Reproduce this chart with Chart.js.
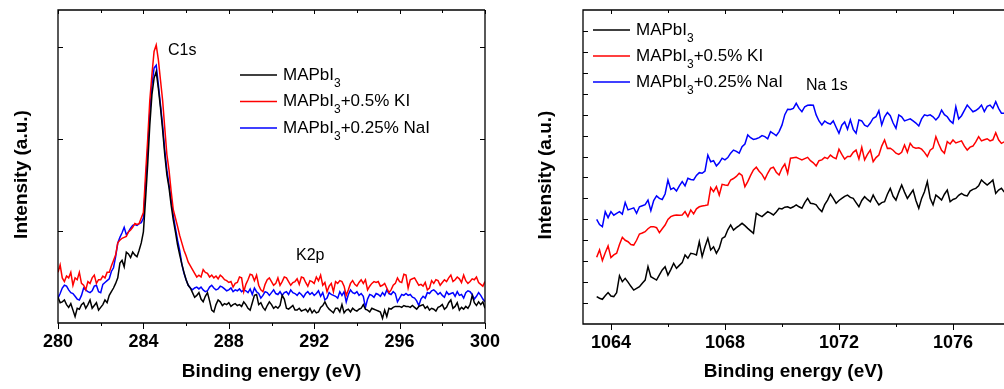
<!DOCTYPE html>
<html>
<head>
<meta charset="utf-8">
<script src="https://cdn.jsdelivr.net/npm/chart.js@4.4.1/dist/chart.umd.min.js"></script>
<style>
    html, body { margin: 0; padding: 0; background: #fff; overflow: hidden; }
    #leftChart { position: absolute; left: 0; top: 0; }
    #rightChart { position: absolute; left: 500px; top: 0; }
</style>
</head>
<body>
<canvas id="leftChart" width="500" height="389"></canvas>
<canvas id="rightChart" width="504" height="389"></canvas>
<script>
// XPS spectra - C1s / K2p region (left) and Na 1s region (right)
const STEP = 0.1;
const seriesNames = ['MAPbI3', 'MAPbI3+0.5% KI', 'MAPbI3+0.25% NaI'];
const seriesColors = ['#000000', '#ff0000', '#0000ff'];

// Left panel: 280.0 ... 300.0 eV
const leftStart = 280;
const leftMajorTicks = [280, 284, 288, 292, 296, 300];
const leftMinorTicks = [282, 286, 290, 294, 298];
const leftYTicks = [10, 20, 30];

const leftBlack = [
    2.8, 2.2, 2.3, 2.5, 2.0, 1.7, 2.1, 1.4, 0.7, 1.6,
    1.5, 2.0, 2.2, 1.6, 2.0, 2.5, 1.6, 1.9, 2.2, 1.4,
    1.7, 2.0, 2.5, 2.2, 3.0, 3.4, 3.8, 4.3, 4.9, 6.5,
    6.8, 6.1, 7.7, 7.5, 7.1, 7.7, 7.4, 7.2, 7.9, 8.7,
    9.9, 13.4, 17.2, 21.5, 24.8, 26.6, 27.3, 25.5, 23.4, 21.0,
    18.3, 16.1, 14.7, 12.8, 11.2, 9.9, 8.5, 7.4, 6.4, 5.5,
    4.7, 4.1, 3.8,
    3.3, 2.8, 3.0, 3.3, 2.6, 2.3, 2.9, 3.3, 2.4, 1.4,
    1.2, 2.0, 2.5, 2.3, 1.9, 2.1, 2.0, 2.2, 1.8, 2.0,
    2.1, 1.9, 2.0, 1.8, 2.3, 2.0, 1.6, 1.4, 2.2, 3.0,
    3.1, 2.0, 2.2, 1.7, 1.4, 1.9, 2.3, 2.0, 1.6, 1.8,
    1.6, 1.9, 3.0, 2.6, 1.6, 1.5, 1.7, 1.9, 1.4, 1.4,
    1.6, 1.3, 1.4, 1.5, 1.2, 1.6, 1.1, 1.4, 1.1, 1.2,
    1.7, 1.9, 2.3, 1.8, 1.5, 1.3, 1.1, 1.6, 1.6, 1.2,
    2.0, 1.1, 1.4, 1.5, 1.2, 1.6, 1.4, 1.3, 1.5, 1.6,
    2.0, 1.5, 1.4, 1.2, 1.6, 1.5, 1.4, 1.3, 1.2, 0.5,
    1.4, 0.7, 1.6, 1.5, 1.7, 1.8, 1.8, 1.8, 1.7, 1.9,
    1.8, 1.8, 1.7, 1.9, 1.7, 1.5, 1.8, 1.9, 2.0, 1.6,
    1.8, 1.4, 1.6, 1.5, 1.3, 1.7, 1.8, 2.0, 1.5, 1.7,
    2.2, 2.5, 1.6, 1.8, 2.2, 1.4, 1.7, 1.5, 1.8, 1.6,
    2.0, 3.0, 2.2, 1.9, 2.3, 2.0, 2.3, 1.6
];

const leftRed = [
    5.5, 6.3, 4.9, 4.5, 5.1, 4.9, 5.5, 4.1, 4.9, 4.7,
    5.5, 4.3, 4.1, 3.6, 4.5, 4.3, 4.9, 5.2, 4.3, 4.7,
    4.7, 5.1, 4.9, 5.5, 5.5, 6.2, 6.8, 7.4, 8.7, 9.0,
    9.2, 9.3, 9.4, 9.9, 10.1, 10.4, 10.8, 10.7, 10.8, 11.4,
    12.0, 16.1, 19.9, 24.2, 27.0, 29.5, 30.2, 28.6, 26.4, 24.2,
    21.2, 18.3, 16.6, 14.3, 12.3, 11.4, 10.5, 9.5, 8.7, 7.9,
    7.3, 6.6, 6.2,
    5.8, 5.4, 5.0, 5.2, 5.0, 5.8, 5.5, 5.4, 5.0, 5.2,
    4.9, 5.1, 4.8, 5.2, 5.0, 4.7, 4.6, 4.4, 4.5, 3.9,
    4.3, 4.4, 5.0, 4.9, 3.4, 4.2, 4.7, 5.3, 5.2, 4.6,
    5.2, 4.1, 3.6, 3.4, 4.2, 4.7, 4.9, 4.5, 4.1, 4.3,
    4.9, 4.1, 4.5, 5.0, 4.9, 4.5, 4.1, 4.4, 4.5, 4.8,
    4.2, 5.0, 4.9, 4.4, 4.0, 4.6, 4.5, 4.3, 5.0, 4.6,
    5.2, 4.1, 4.4, 3.4, 4.0, 4.3, 3.4, 4.5, 4.3, 4.6,
    4.5, 4.0, 3.0, 3.6, 4.3, 4.6, 4.2, 4.0, 4.4, 4.7,
    4.3, 4.7, 3.6, 4.0, 4.3, 4.5, 4.4, 4.5, 4.0, 4.1,
    4.3, 3.8, 3.3, 3.6, 4.1, 4.3, 4.9, 4.5, 4.4, 5.3,
    5.2, 3.8, 4.7, 4.8, 4.9, 4.5, 4.1, 4.2, 4.0, 4.4,
    3.6, 3.8, 4.6, 4.3, 4.7, 4.6, 4.1, 4.4, 4.7, 4.5,
    4.9, 5.2, 4.5, 4.7, 5.0, 4.8, 4.4, 5.2, 4.6, 4.3,
    4.5, 4.8, 4.7, 5.0, 4.4, 4.2, 4.0, 4.5
];

const leftBlue = [
    2.7, 3.2, 3.8, 4.1, 4.0, 3.6, 3.3, 3.2, 2.9, 2.6,
    2.5, 3.0, 3.8, 3.6, 3.4, 3.3, 3.5, 4.0, 4.1, 3.4,
    3.3, 4.2, 4.4, 4.6, 4.8, 5.6, 6.0, 7.2, 8.7, 9.3,
    9.8, 10.4, 9.6, 9.9, 10.3, 10.6, 10.7, 10.6, 10.8, 10.9,
    11.4, 15.0, 18.8, 22.9, 25.9, 27.7, 28.0, 25.9, 23.7, 21.5,
    18.8, 16.6, 15.0, 13.4, 11.7, 10.3, 9.0, 7.9, 6.4, 5.4,
    4.7, 4.1, 3.8,
    3.6, 3.8, 3.9, 3.7, 3.9, 3.6, 3.4, 3.5, 3.9, 4.1,
    3.8, 3.6, 3.7, 4.0, 3.9, 3.7, 3.5, 3.6, 3.8, 3.4,
    3.6, 3.5, 3.7, 3.4, 3.6, 3.5, 3.3, 3.7, 3.1, 3.8,
    3.4, 3.2, 2.7, 3.0, 3.4, 3.3, 3.0, 3.3, 3.6, 3.2,
    3.1, 3.4, 3.0, 3.3, 3.4, 3.1, 3.6, 3.3, 3.2, 3.0,
    3.3, 3.1, 2.8, 3.2, 3.4, 3.1, 3.3, 3.0, 3.2, 3.5,
    2.9, 3.3, 2.5, 2.7, 3.3, 3.1, 3.0, 2.9, 2.7, 3.4,
    3.0, 3.4, 2.3, 3.1, 3.6, 3.3, 3.2, 3.4, 3.0, 3.2,
    2.9, 1.7, 2.6, 3.1, 3.0, 2.8, 3.2, 3.1, 2.9, 3.3,
    3.0, 3.6, 3.2, 3.1, 3.4, 3.2, 2.3, 2.7, 3.1, 3.0,
    3.2, 3.0, 3.1, 2.8, 2.7, 2.4, 1.9, 2.6, 2.9, 2.7,
    3.3, 3.2, 3.5, 3.6, 3.4, 3.1, 3.3, 3.0, 2.8, 3.4,
    3.1, 3.2, 3.3, 2.9, 3.4, 3.0, 3.1, 2.7, 3.3, 3.5,
    3.4, 3.1, 2.6, 2.9, 3.3, 3.0, 2.6, 2.3
];

// Right panel: 1063.5 ... 1077.8 eV
const rightStart = 1063.5;
const rightMajorTicks = [1064, 1068, 1072, 1076];
const rightMinorTicks = [1066, 1070, 1074];
const rightYTicks = [1, 2, 3, 4, 5, 6, 7, 8, 9, 10, 11, 12, 13, 14];

const rightBlack = [
    1.31, 1.23, 1.18, 1.35, 1.5,
    1.34, 1.31, 1.5, 2.31, 2.02,
    2.18, 2.0, 1.8, 1.62, 1.7,
    1.78, 1.95, 2.1, 2.74, 2.26,
    2.18, 2.1, 2.35, 2.58, 2.74,
    2.34, 2.6, 2.9, 2.66, 2.8,
    2.93, 3.3, 3.14, 3.38, 3.35,
    3.3, 3.93, 3.22, 3.69, 4.09,
    3.54, 3.69, 3.38, 3.62, 4.09,
    4.17, 4.5, 4.73, 4.49, 4.6,
    4.7, 4.81, 4.7, 4.57, 4.45,
    4.33, 5.29, 5.2, 5.13, 5.25,
    5.37, 5.3, 5.21, 5.35, 5.53,
    5.5, 5.58, 5.6, 5.53, 5.6,
    5.69, 5.6, 5.53, 5.8, 6.0,
    5.77, 5.75, 5.69, 5.5, 5.37,
    5.7, 5.92, 6.21, 6.0, 5.77,
    5.9, 6.0, 6.1, 6.16, 6.05,
    6.0, 5.8, 5.6, 5.9, 6.08,
    5.95, 5.84, 6.16, 5.9, 5.69,
    5.8, 5.84, 6.2, 6.48, 6.1,
    5.92, 6.3, 6.64, 6.3, 6.0,
    6.2, 6.4, 5.9, 5.53, 6.0,
    6.32, 6.8, 6.0, 5.69, 6.16,
    6.05, 5.92, 6.2, 6.4, 5.84,
    5.95, 6.0, 6.15, 6.24, 6.15,
    6.12, 6.35, 6.43, 6.48, 6.6,
    6.88, 6.75, 6.64, 6.75, 6.88,
    6.24, 6.4, 6.48, 6.3
];

const rightRed = [
    3.19, 3.54, 3.03, 3.4, 3.73,
    3.17, 3.3, 3.38, 3.8, 4.14,
    4.0, 3.93, 3.8, 3.77, 4.0,
    4.3, 4.35, 4.41, 4.55, 4.65,
    4.65, 4.6, 4.36, 4.55, 4.73,
    5.0, 5.13, 5.18, 5.21, 5.2,
    5.21, 5.37, 5.13, 5.45, 5.26,
    5.5, 5.6, 5.64, 5.66, 5.69,
    6.51, 6.32, 6.56, 6.16, 6.67,
    6.64, 6.62, 6.88, 6.95, 7.05,
    7.2, 7.1, 6.56, 6.8, 7.1,
    7.36, 7.49, 7.3, 7.15, 6.91,
    7.2, 7.44, 7.49, 7.25, 7.12,
    7.44, 7.64, 7.2, 7.92, 7.94,
    7.96, 7.9, 7.84, 7.9, 7.96,
    7.8, 7.7, 7.55, 7.8, 7.84,
    7.96, 7.9, 8.07, 7.96, 7.9,
    8.35, 8.1, 7.88, 8.0, 8.0,
    8.2, 8.31, 7.88, 8.44, 7.84,
    8.1, 8.31, 7.75, 7.95, 8.07,
    8.5, 8.79, 8.39, 8.4, 8.3,
    8.16, 8.1, 8.2, 8.55, 8.2,
    8.63, 8.45, 8.4, 8.42, 8.35,
    8.2, 8.0, 8.3, 8.4, 8.95,
    8.6, 8.3, 8.16, 8.71, 8.6,
    8.79, 8.65, 8.7, 8.75, 8.5,
    8.31, 8.45, 8.5, 8.7, 8.95,
    8.75, 8.8, 8.85, 8.75, 8.8,
    9.14, 8.8, 8.63, 8.7
];

const rightBlue = [
    5.0, 4.75, 4.65, 5.37, 5.08,
    5.37, 5.2, 5.29, 5.37, 5.25,
    5.8, 5.45, 5.5, 5.55, 5.29,
    5.6, 5.65, 5.7, 5.92, 5.41,
    5.9, 6.12, 6.0, 5.95, 6.21,
    6.88, 6.43, 6.5, 6.35, 6.6,
    6.8, 6.6, 6.96, 6.9, 6.88,
    7.1, 7.23, 7.2, 7.31, 8.07,
    7.75, 7.8, 7.55, 7.7, 7.92,
    7.84, 7.95, 8.16, 8.31, 8.25,
    8.16, 8.47, 8.6, 9.03, 8.9,
    8.82, 8.85, 8.9, 9.0, 8.95,
    8.85, 9.19, 9.1, 9.0, 9.19,
    9.5, 10.0, 10.26, 10.25, 10.3,
    10.54, 10.3, 10.14, 10.38, 10.45,
    10.46, 10.45, 9.99, 9.7, 9.51,
    9.7, 9.6, 9.55, 9.7, 9.4,
    9.11, 9.5, 9.65, 9.3, 9.75,
    9.3, 9.11, 9.75, 9.7, 9.5,
    9.43, 9.6, 9.83, 9.9, 10.19,
    9.51, 9.9, 10.1, 9.95, 9.6,
    9.35, 9.99, 9.9, 9.7, 9.75,
    9.8, 9.7, 9.6, 9.46, 9.8,
    9.99, 9.95, 9.99, 9.9, 9.75,
    9.9, 10.22, 10.0, 9.9, 9.7,
    9.59, 10.38, 9.8, 9.95, 10.2,
    10.46, 10.3, 10.14, 10.2, 10.3,
    10.46, 10.15, 10.4, 10.46, 10.3,
    10.62, 10.3, 10.07, 10.07
];

const FAMILY = '"Liberation Sans", Arial, Helvetica, sans-serif';
Chart.defaults.font.family = FAMILY;
Chart.defaults.color = '#000';

// Pair the energy grid with a list of intensities
function toPoints(start, values) {
    return values.map((v, i) => ({ x: +(start + i * STEP).toFixed(2), y: v }));
}

// "MAPbI3..." -> MAPbI + subscript 3 + rest
function drawFormula(ctx, label, x, y) {
    const cut = label.indexOf('3');
    const head = label.slice(0, cut);
    const tail = label.slice(cut + 1);
    ctx.fillStyle = '#000';
    ctx.textAlign = 'left';
    ctx.textBaseline = 'middle';
    ctx.font = '17px ' + FAMILY;
    ctx.fillText(head, x, y);
    let w = ctx.measureText(head).width;
    ctx.font = '12px ' + FAMILY;
    ctx.fillText('3', x + w, y + 8.5);
    w += ctx.measureText('3').width;
    ctx.font = '17px ' + FAMILY;
    ctx.fillText(tail, x + w, y);
}

// Frame, ticks, y title, legend and peak notes
const framePlugin = {
    id: 'framePlugin',
    afterDatasetsDraw(chart, args, o) {
        const { ctx, chartArea: a } = chart;
        const xs = chart.scales.x;
        const ys = chart.scales.y;
        ctx.save();
        ctx.strokeStyle = '#000';
        ctx.lineWidth = 1.3;
        ctx.beginPath();
        ctx.moveTo(a.right, a.top);
        ctx.lineTo(a.left, a.top);
        ctx.lineTo(a.left, a.bottom);
        ctx.lineTo(a.right, a.bottom);
        if (o.closed) ctx.lineTo(a.right, a.top);
        ctx.stroke();

        ctx.lineWidth = 1;
        ctx.beginPath();
        o.xMajor.forEach(v => {
            const px = Math.round(xs.getPixelForValue(v)) + 0.5;
            ctx.moveTo(px, a.bottom); ctx.lineTo(px, a.bottom + 6);
            ctx.moveTo(px, a.top); ctx.lineTo(px, a.top + 4);
        });
        o.xMinor.forEach(v => {
            const px = Math.round(xs.getPixelForValue(v)) + 0.5;
            ctx.moveTo(px, a.bottom); ctx.lineTo(px, a.bottom + 3);
            ctx.moveTo(px, a.top); ctx.lineTo(px, a.top + 3);
        });
        o.yTicks.forEach(v => {
            const py = Math.round(ys.getPixelForValue(v)) + 0.5;
            ctx.moveTo(a.left, py); ctx.lineTo(a.left + 5, py);
            if (o.closed) { ctx.moveTo(a.right, py); ctx.lineTo(a.right - 5, py); }
        });
        ctx.stroke();

        // rotated y title, a little below the middle of the frame
        ctx.save();
        ctx.translate(o.yTitle.x, (a.top + a.bottom) / 2 + 8);
        ctx.rotate(-Math.PI / 2);
        ctx.fillStyle = '#000';
        ctx.font = 'bold 19px ' + FAMILY;
        ctx.textAlign = 'center';
        ctx.textBaseline = 'middle';
        ctx.fillText(o.yTitle.text, 0, 0);
        ctx.restore();

        // legend
        chart.data.datasets.forEach((ds, i) => {
            const ly = o.legend.y + i * o.legend.gap;
            ctx.strokeStyle = ds.borderColor;
            ctx.lineWidth = 1.5;
            ctx.beginPath();
            ctx.moveTo(o.legend.x, ly);
            ctx.lineTo(o.legend.x + 37, ly);
            ctx.stroke();
            drawFormula(ctx, ds.label, o.legend.x + 43, ly);
        });

        // peak notes, anchored in data units
        ctx.fillStyle = '#000';
        ctx.font = '16px ' + FAMILY;
        ctx.textAlign = 'left';
        ctx.textBaseline = 'middle';
        o.notes.forEach(n => {
            ctx.fillText(n.text, xs.getPixelForValue(n.x), ys.getPixelForValue(n.y));
        });
        ctx.restore();
    }
};

function makeChart(id, cfg) {
    const datasets = cfg.series.map((values, i) => ({
        label: seriesNames[i],
        data: toPoints(cfg.start, values),
        borderColor: seriesColors[i],
        borderWidth: 1.5,
        pointRadius: 0,
        tension: 0,
        fill: false
    }));
    return new Chart(document.getElementById(id), {
        type: 'line',
        data: { datasets },
        plugins: [framePlugin],
        options: {
            responsive: false,
            animation: false,
            layout: { padding: { top: 10, right: cfg.padRight, left: 0, bottom: 0 } },
            plugins: {
                legend: { display: false },
                tooltip: { enabled: false },
                framePlugin: {
                    closed: cfg.closed,
                    xMajor: cfg.xMajor,
                    xMinor: cfg.xMinor,
                    yTicks: cfg.yTicks,
                    yTitle: { text: 'Intensity (a.u.)', x: cfg.yTitleX },
                    legend: cfg.legend,
                    notes: cfg.notes
                }
            },
            scales: {
                x: {
                    type: 'linear',
                    min: cfg.xMin,
                    max: cfg.xMax,
                    afterBuildTicks: s => { s.ticks = cfg.xMajor.map(v => ({ value: v })); },
                    afterFit: s => {
                        s.height = cfg.xHeight;
                        s.paddingLeft = 0;
                        s.paddingRight = 0;
                    },
                    grid: { display: false, drawTicks: false },
                    border: { display: false },
                    ticks: {
                        autoSkip: false,
                        maxRotation: 0,
                        padding: 8,
                        color: '#000',
                        font: { size: 18, weight: 'bold' },
                        callback: v => String(v)
                    },
                    title: {
                        display: true,
                        text: 'Binding energy (eV)',
                        color: '#000',
                        font: { size: 19, weight: 'bold' },
                        padding: { top: 0, bottom: 6 }
                    }
                },
                y: {
                    type: 'linear',
                    min: cfg.yMin,
                    max: cfg.yMax,
                    afterFit: s => {
                        s.width = cfg.yWidth;
                        s.paddingTop = 0;
                        s.paddingBottom = 0;
                    },
                    grid: { display: false, drawTicks: false },
                    border: { display: false },
                    ticks: { display: false }
                }
            }
        }
    });
}

makeChart('leftChart', {
    start: leftStart,
    series: [leftBlack, leftRed, leftBlue],
    xMin: 280, xMax: 300, yMin: 0, yMax: 34,
    xMajor: leftMajorTicks, xMinor: leftMinorTicks, yTicks: leftYTicks,
    closed: true, padRight: 15, xHeight: 66, yWidth: 58, yTitleX: 22,
    legend: { x: 240, y: 75, gap: 26.5 },
    notes: [
        { text: 'C1s', x: 285.15, y: 29.6 },
        { text: 'K2p', x: 291.15, y: 7.3 }
    ]
});

makeChart('rightChart', {
    start: rightStart,
    series: [rightBlack, rightRed, rightBlue],
    xMin: 1063.02, xMax: 1077.79, yMin: 0, yMax: 15,
    xMajor: rightMajorTicks, xMinor: rightMinorTicks, yTicks: rightYTicks,
    closed: false, padRight: 0, xHeight: 65, yWidth: 83, yTitleX: 46,
    legend: { x: 93, y: 30, gap: 26 },
    notes: [
        { text: 'Na 1s', x: 1070.84, y: 11.37 }
    ]
});
</script>
</body>
</html>
